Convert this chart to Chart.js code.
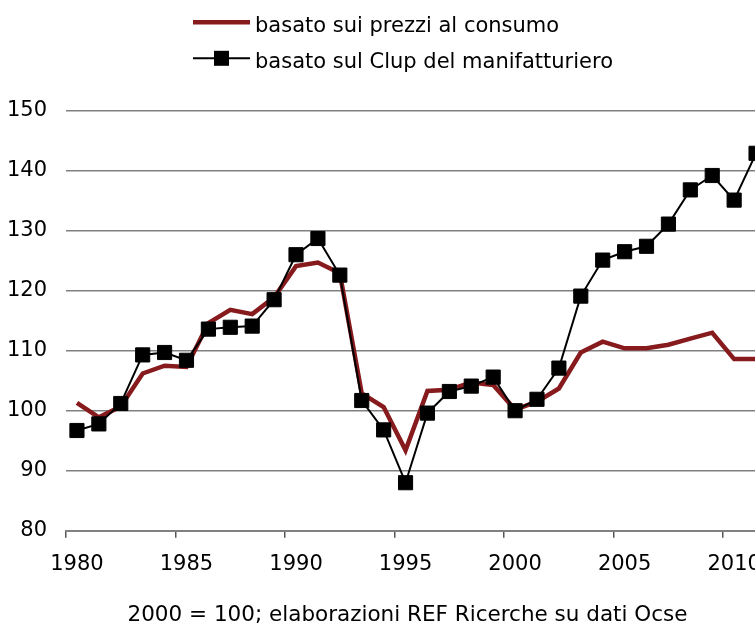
<!DOCTYPE html>
<html>
<head>
<meta charset="utf-8">
<script src="https://cdn.jsdelivr.net/npm/chart.js@4/dist/chart.umd.min.js"></script>
<style>
  html, body { margin: 0; padding: 0; overflow: hidden; background: #fff; }
  #wrap { width: 755px; height: 624px; overflow: hidden; }
  canvas { display: block; }
</style>
</head>
<body>
<div id="wrap"><canvas id="c" width="778" height="624"></canvas></div>
<script>
const years = [1980,1981,1982,1983,1984,1985,1986,1987,1988,1989,1990,1991,1992,1993,1994,1995,
               1996,1997,1998,1999,2000,2001,2002,2003,2004,2005,2006,2007,2008,2009,2010,2011];
const prezziConsumo = [101.3,98.9,100.7,106.2,107.5,107.3,114.6,116.8,116.1,118.9,124.1,124.7,122.9,102.9,100.6,93.4,
                       103.3,103.5,104.7,104.3,100.2,101.5,103.7,109.7,111.5,110.4,110.4,111.0,112.0,113.0,108.6,108.6];
const clupManifatturiero = [96.7,97.8,101.2,109.3,109.7,108.4,113.6,113.9,114.1,118.5,126.0,128.7,122.6,101.7,96.8,88.0,
                            99.6,103.2,104.1,105.6,100.0,101.9,107.1,119.1,125.1,126.5,127.4,131.1,136.8,139.2,135.1,142.9];
const seriesLabels = ['basato sui prezzi al consumo', 'basato sul Clup del manifatturiero'];
const yTicks = { min: 80, max: 150, step: 10 };
const xTickEvery = 5;
const footnote = '2000 = 100; elaborazioni REF Ricerche su dati Ocse';

const FONT = '"DejaVu Sans", Verdana, sans-serif';
const RED = '#861a1c';
const GRID = '#808080';

const textPlugin = {
  id: 'legendAndNote',
  afterDraw(chart) {
    const ctx = chart.ctx;
    const rows = [32, 68];
    ctx.save();
    ctx.font = '21px ' + FONT;
    ctx.textBaseline = 'alphabetic';
    ctx.textAlign = 'left';
    chart.data.datasets.forEach((ds, i) => {
      const base = rows[i];
      const ly = base - 9.7;
      ctx.strokeStyle = ds.borderColor;
      ctx.lineWidth = ds.borderWidth;
      ctx.beginPath();
      ctx.moveTo(193, ly);
      ctx.lineTo(250, ly);
      ctx.stroke();
      if (ds.pointRadius > 0) {
        ctx.fillStyle = ds.pointBackgroundColor;
        ctx.fillRect(214, ly - 7.5, 15, 15);
      }
      ctx.fillStyle = '#000';
      ctx.fillText(ds.label, 255, base);
    });
    ctx.font = '21.5px ' + FONT;
    ctx.textAlign = 'center';
    ctx.fillStyle = '#000';
    ctx.fillText(footnote, 407.5, 620.5);
    ctx.restore();
  }
};

new Chart(document.getElementById('c'), {
  type: 'line',
  data: {
    labels: years,
    datasets: [
      {
        label: seriesLabels[0],
        data: prezziConsumo,
        borderColor: RED,
        backgroundColor: RED,
        borderWidth: 4.5,
        pointRadius: 0,
        tension: 0,
        order: 1
      },
      {
        label: seriesLabels[1],
        data: clupManifatturiero,
        borderColor: '#000',
        backgroundColor: '#000',
        pointBackgroundColor: '#000',
        pointBorderColor: '#000',
        borderWidth: 2,
        pointStyle: 'rect',
        pointRadius: 10,
        pointBorderWidth: 1,
        tension: 0,
        order: 0
      }
    ]
  },
  options: {
    responsive: false,
    animation: false,
    devicePixelRatio: 1,
    layout: { padding: { left: 0, right: 5, top: 110.7, bottom: 43.3 } },
    plugins: {
      legend: { display: false },
      tooltip: { enabled: false },
      title: { display: false }
    },
    scales: {
      x: {
        type: 'category',
        offset: true,
        grid: {
          offset: true,
          drawOnChartArea: false,
          drawTicks: true,
          tickLength: 7,
          lineWidth: 1.5,
          tickColor: (c) => {
            const y = years[c.index];
            return (y !== undefined && y % xTickEvery === 0) ? '#555' : 'rgba(0,0,0,0)';
          }
        },
        border: { display: true, color: GRID, width: 2 },
        ticks: {
          autoSkip: false,
          maxRotation: 0,
          minRotation: 0,
          padding: 14,
          color: '#000',
          font: { family: FONT, size: 21 },
          callback: (v, i) => (years[i] % xTickEvery === 0 ? String(years[i]) : '')
        },
        afterFit: (s) => { s.height = 50; }
      },
      y: {
        min: yTicks.min,
        max: yTicks.max,
        grid: { color: GRID, lineWidth: 1.5, drawTicks: false },
        border: { display: false },
        ticks: {
          stepSize: yTicks.step,
          padding: 19,
          color: '#000',
          font: { family: FONT, size: 21 }
        },
        afterFit: (s) => { s.width = 66; }
      }
    }
  },
  plugins: [textPlugin]
});
</script>
</body>
</html>
